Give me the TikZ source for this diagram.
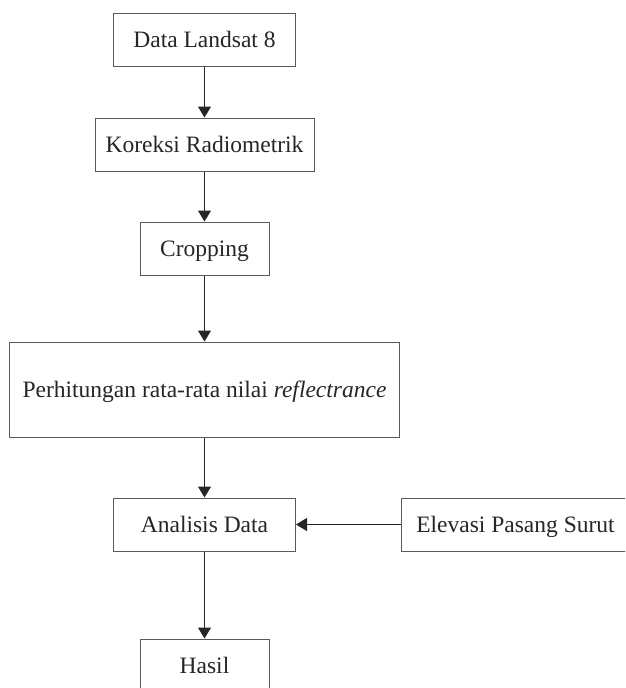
\documentclass[tikz,border=0pt]{standalone}
\usepackage{fontspec}
\setmainfont{Liberation Serif}
\usetikzlibrary{arrows.meta}
\begin{document}
\begin{tikzpicture}[x=1pt,y=-1pt,
  box/.style={draw=black!65, line width=1pt, fill=white, inner sep=0pt,
    text height=16pt, text depth=0pt, font=\fontsize{23.5}{28}\selectfont, text=black!85},
  arr/.style={draw=black!85, line width=1pt, -{Triangle[width=13pt,length=11pt]}}]
\useasboundingbox (0,0) rectangle (625,688);
\fill[white] (0,0) rectangle (625,688);
\clip (0,0) rectangle (625,688);
\node[box, minimum width=182pt, minimum height=53pt] (n1) at (204.5,39.5) {Data Landsat 8};
\node[box, minimum width=219pt, minimum height=53pt] (n2) at (204.5,144.5) {Koreksi Radiometrik};
\node[box, minimum width=129pt, minimum height=53pt] (n3) at (204.5,248.5) {Cropping};
\node[box, minimum width=390pt, minimum height=95pt] (n4) at (204.5,389.5) {Perhitungan rata-rata nilai \textit{reflectrance}};
\node[box, minimum width=182pt, minimum height=53pt] (n5) at (204.5,524.5) {Analisis Data};
\node[box, minimum width=229pt, minimum height=53pt] (n6) at (515.5,524.5) {Elevasi Pasang Surut};
\node[box, minimum width=129pt, minimum height=53pt] (n7) at (204.5,665.5) {Hasil};
\draw[arr] (n1) -- (n2);
\draw[arr] (n2) -- (n3);
\draw[arr] (n3) -- (n4);
\draw[arr] (n4) -- (n5);
\draw[arr] (n6) -- (n5);
\draw[arr] (n5) -- (n7);
\end{tikzpicture}
\end{document}
